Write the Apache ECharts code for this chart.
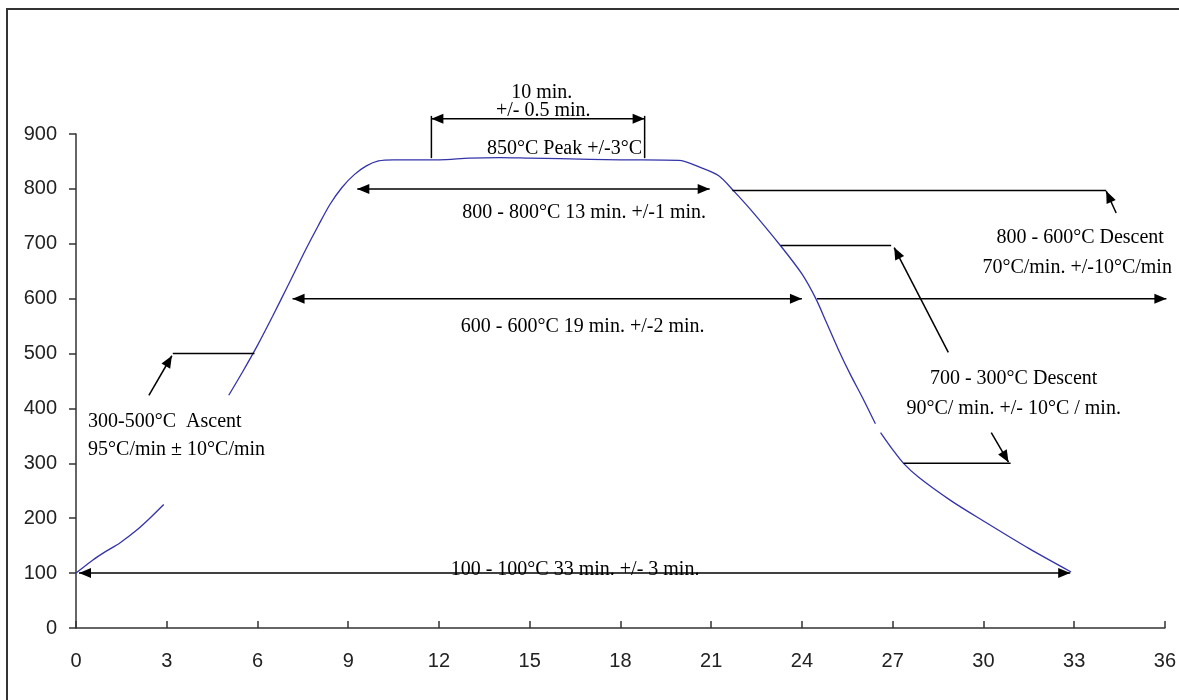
<!DOCTYPE html>
<html>
<head>
<meta charset="utf-8">
<script src="https://cdn.jsdelivr.net/npm/echarts@6/dist/echarts.min.js"></script>
<style>html,body{margin:0;padding:0;background:#fff;}#c{width:1179px;height:700px;}</style>
</head>
<body>
<div id="c"></div>
<script>
// ---- Data ----
const xTicks = [0, 3, 6, 9, 12, 15, 18, 21, 24, 27, 30, 33, 36];
const yTicks = [0, 100, 200, 300, 400, 500, 600, 700, 800, 900];

// Temperature profile (minutes, °C); null marks a gap in the drawn curve
const curveX = [0, 0.56, 1.0, 1.45, 2.0, 2.44, 2.9, null,
  5.05, 5.5, 6.0, 6.5, 7.0, 7.6, 8.0, 8.4, 8.8, 9.2, 9.6, 10.0, 10.5, 12, 13, 14, 15, 16, 18, 19.93,
  20.6, 21.25, 21.75, 22.34, 23.3, 24.0, 24.46, 24.8, 25.2, 25.6, 26.0, 26.43, null,
  26.6, 27.0, 27.36, 27.85, 28.9, 30, 31.5, 32.9];
const curveY = [100, 124, 140, 155, 178, 200, 225, null,
  424, 466, 515, 568, 623, 690, 732, 772, 803, 826, 842, 851, 853, 853, 856, 857, 856, 855, 853, 852,
  840, 824, 796, 760, 696, 645, 600, 558, 508, 462, 420, 372, null,
  356, 325, 300, 275, 233, 195, 145, 102];

// Annotation segments in data units: x1, y1, x2, y2, arrowhead at start (1/0), arrowhead at end (1/0)
const segX1 = [11.75, 11.75, 18.8, 9.3, 7.16, 0.1, 3.2, 2.41, 21.7, 34.39, 23.3, 28.84, 24.5, 27.36, 30.26];
const segY1 = [928, 933, 933, 800, 600, 100, 500, 424, 797, 756, 697, 502, 600, 300, 356];
const segX2 = [18.8, 11.75, 18.8, 20.95, 24.0, 32.87, 5.9, 3.17, 34.06, 34.06, 26.95, 27.05, 36.05, 30.9, 30.83];
const segY2 = [928, 856, 856, 800, 600, 100, 500, 496, 797, 796, 697, 693, 600, 300, 302];
const segHeadStart = [1, 0, 0, 1, 1, 1, 0, 0, 0, 0, 0, 0, 0, 0, 0];
const segHeadEnd = [1, 0, 0, 1, 1, 1, 0, 1, 0, 1, 0, 1, 1, 0, 1];

// Annotation texts anchored in data units
const noteText = [
  '10 min.', '+/- 0.5 min.', '850°C Peak +/-3°C',
  '800 - 800°C 13 min. +/-1 min.', '600 - 600°C 19 min. +/-2 min.', '100 - 100°C 33 min. +/- 3 min.',
  '300-500°C  Ascent', '95°C/min ± 10°C/min',
  '800 - 600°C Descent', '70°C/min. +/-10°C/min',
  '700 - 300°C Descent', '90°C/ min. +/- 10°C / min.'
];
const noteX = [15.4, 15.45, 16.15, 16.8, 16.75, 16.5, 0.4, 0.4, 33.2, 33.1, 31.0, 31.0];
const noteY = [975, 942, 873, 756, 549, 106, 376, 324, 711, 656, 455, 400];
const noteAlign = ['center', 'center', 'center', 'center', 'center', 'center', 'left', 'left', 'center', 'center', 'center', 'center'];

// ---- Build ----
const curveData = curveX.map((x, i) => (x === null ? '-' : [x, curveY[i]]));
const segData = segX1.map((x, i) => [x, segY1[i], segX2[i], segY2[i], segHeadStart[i], segHeadEnd[i]]);
const noteData = noteX.map((x, i) => [x, noteY[i], i]);

function head(tip, from) {
  const dx = tip[0] - from[0], dy = tip[1] - from[1];
  const len = Math.sqrt(dx * dx + dy * dy) || 1;
  const ux = dx / len, uy = dy / len;
  const L = 12, W = 5;
  const bx = tip[0] - ux * L, by = tip[1] - uy * L;
  return {
    type: 'polygon',
    shape: { points: [[tip[0], tip[1]], [bx - uy * W, by + ux * W], [bx + uy * W, by - ux * W]] },
    style: { fill: '#000' }
  };
}

const chart = echarts.init(document.getElementById('c'), null, { renderer: 'canvas' });
const axisFont = { fontFamily: 'Liberation Sans', fontSize: 20, color: '#222' };

chart.setOption({
  animation: false,
  backgroundColor: '#fff',
  graphic: [{
    type: 'rect', silent: true, z: -1,
    shape: { x: 7, y: 9, width: 1260, height: 760 },
    style: { fill: 'none', stroke: '#333', lineWidth: 2 }
  }],
  grid: { left: 76, right: 12, top: 134, bottom: 72 },
  xAxis: {
    type: 'value', min: xTicks[0], max: xTicks[xTicks.length - 1], interval: 3,
    splitLine: { show: false },
    axisLine: { lineStyle: { color: '#333', width: 1.5 } },
    axisTick: { inside: true, length: 7, lineStyle: { color: '#333', width: 1.5 } },
    axisLabel: Object.assign({ margin: 23 }, axisFont)
  },
  yAxis: {
    type: 'value', min: yTicks[0], max: yTicks[yTicks.length - 1], interval: 100,
    splitLine: { show: false },
    axisLine: { show: true, lineStyle: { color: '#333', width: 1.5 } },
    axisTick: { show: true, inside: false, length: 7, lineStyle: { color: '#333', width: 1.5 } },
    axisLabel: Object.assign({ margin: 19 }, axisFont)
  },
  series: [
    {
      type: 'line', data: curveData, showSymbol: false, connectNulls: false, smooth: 0.3,
      lineStyle: { color: '#3333aa', width: 1.3 }, z: 3
    },
    {
      type: 'custom', data: segData, clip: false, z: 4,
      encode: { x: [0, 2], y: [1, 3] },
      renderItem: function (params, api) {
        const p1 = api.coord([api.value(0), api.value(1)]);
        const p2 = api.coord([api.value(2), api.value(3)]);
        const children = [{
          type: 'line',
          shape: { x1: p1[0], y1: p1[1], x2: p2[0], y2: p2[1] },
          style: { stroke: '#000', lineWidth: 1.5 }
        }];
        if (api.value(4)) children.push(head(p1, p2));
        if (api.value(5)) children.push(head(p2, p1));
        return { type: 'group', children: children };
      }
    },
    {
      type: 'custom', data: noteData, clip: false, z: 5,
      encode: { x: 0, y: 1 },
      renderItem: function (params, api) {
        const p = api.coord([api.value(0), api.value(1)]);
        const idx = api.value(2);
        return {
          type: 'text', x: p[0], y: p[1],
          style: {
            text: noteText[idx], fill: '#000',
            font: '20px "Liberation Serif"',
            textAlign: noteAlign[idx], textVerticalAlign: 'middle'
          }
        };
      }
    }
  ]
});
</script>
</body>
</html>
